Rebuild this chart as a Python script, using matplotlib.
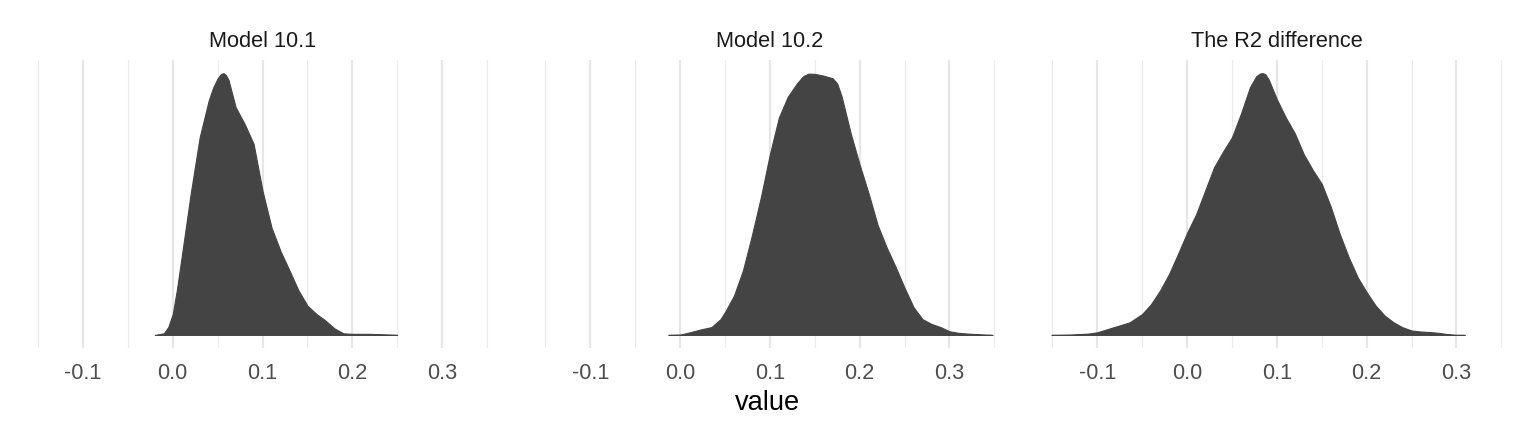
import numpy as np
import matplotlib
matplotlib.use("Agg")
import matplotlib.pyplot as plt

plt.rcParams['font.family'] = ['Liberation Sans', 'DejaVu Sans']

panels = ["Model 10.1", "Model 10.2", "The R2 difference"]

# density curves (height relative to each panel's peak)
m1_x = [-0.020, -0.010, -0.005, 0.000, 0.0045, 0.01, 0.02, 0.03, 0.04, 0.045, 0.05,
        0.0535, 0.0565, 0.059, 0.062, 0.07, 0.08, 0.09, 0.10, 0.11, 0.12, 0.13, 0.14,
        0.15, 0.16, 0.17, 0.18, 0.19, 0.20, 0.22, 0.25]
m1_y = [0.0, 0.006, 0.03, 0.08, 0.17, 0.30, 0.54, 0.755, 0.895, 0.945, 0.98,
        0.996, 1.0, 0.993, 0.975, 0.87, 0.806, 0.73, 0.55, 0.41, 0.32, 0.246, 0.17,
        0.112, 0.08, 0.055, 0.025, 0.006, 0.004, 0.004, 0.0]

m2_x = [-0.013, 0.0, 0.011, 0.022, 0.035, 0.045, 0.05, 0.06, 0.07, 0.08, 0.09,
        0.10, 0.11, 0.12, 0.13, 0.137, 0.143, 0.15, 0.16, 0.17, 0.175, 0.18, 0.19,
        0.20, 0.21, 0.22, 0.23, 0.24, 0.25, 0.26, 0.27, 0.28, 0.29, 0.30, 0.31, 0.32,
        0.34, 0.348]
m2_y = [0.0, 0.001, 0.01, 0.02, 0.03, 0.06, 0.087, 0.15, 0.246, 0.38, 0.526,
        0.69, 0.83, 0.91, 0.96, 0.988, 0.998, 0.997, 0.99, 0.98, 0.96, 0.91, 0.77,
        0.65, 0.54, 0.42, 0.335, 0.26, 0.18, 0.106, 0.06, 0.042, 0.03, 0.014, 0.008, 0.005,
        0.001, 0.0]

d_x = [-0.151, -0.13, -0.11, -0.10, -0.084, -0.064, -0.05, -0.04, -0.03, -0.02,
       -0.01, 0.0, 0.01, 0.02, 0.03, 0.04, 0.05, 0.06, 0.07, 0.077, 0.081, 0.084,
       0.087, 0.091, 0.10, 0.11, 0.12, 0.13, 0.14, 0.15, 0.16, 0.17, 0.18, 0.19, 0.20,
       0.21, 0.22, 0.23, 0.24, 0.25, 0.26, 0.27, 0.28, 0.29, 0.30, 0.309]
d_y = [0.0, 0.001, 0.005, 0.01, 0.027, 0.048, 0.08, 0.118, 0.17, 0.233,
       0.31, 0.39, 0.46, 0.55, 0.64, 0.70, 0.755, 0.845, 0.946, 0.988, 0.998, 1.0,
       0.996, 0.975, 0.90, 0.83, 0.77, 0.69, 0.63, 0.577, 0.49, 0.386, 0.297, 0.22, 0.163,
       0.112, 0.074, 0.048, 0.029, 0.017, 0.013, 0.011, 0.008, 0.003, 0.0, 0.0]

curves = [(m1_x, m1_y), (m2_x, m2_y), (d_x, d_y)]
major = [-0.1, 0.0, 0.1, 0.2, 0.3]
minor = [-0.15, -0.05, 0.05, 0.15, 0.25, 0.35]

W, H = 1536, 432
fig = plt.figure(figsize=(W / 100, H / 100), dpi=100)

lefts = [15.6, 522.9, 1029.9]
pw, top, bot = 493.9, 60, 348
for left, title, (xs, ys) in zip(lefts, panels, curves):
    ax = fig.add_axes([left / W, (H - bot) / H, pw / W, (bot - top) / H])
    ax.set_xlim(-0.175, 0.375)
    ax.set_ylim(-0.05, 1.05)
    for v in minor:
        ax.axvline(v, color='#EBEBEB', lw=0.9, zorder=0)
    for v in major:
        ax.axvline(v, color='#E6E6E6', lw=1.6, zorder=0)
    ax.fill_between(xs, 0, ys, color='#444444', lw=0.8, edgecolor='#444444', zorder=2)
    ax.set_xticks(major)
    ax.set_xticklabels([f"{v:.1f}" for v in major])
    ax.tick_params(axis='x', length=0, pad=10.5, labelsize=15.7, labelcolor='#4D4D4D')
    ax.set_yticks([])
    for s in ax.spines.values():
        s.set_visible(False)
    ax.set_title(title, fontsize=15.7, color='#1A1A1A', pad=9.6)

fig.text(767.5 / W, (H - 410) / H, "value", ha='center', va='baseline', fontsize=19.6)

fig.savefig("out.png", dpi=100)
